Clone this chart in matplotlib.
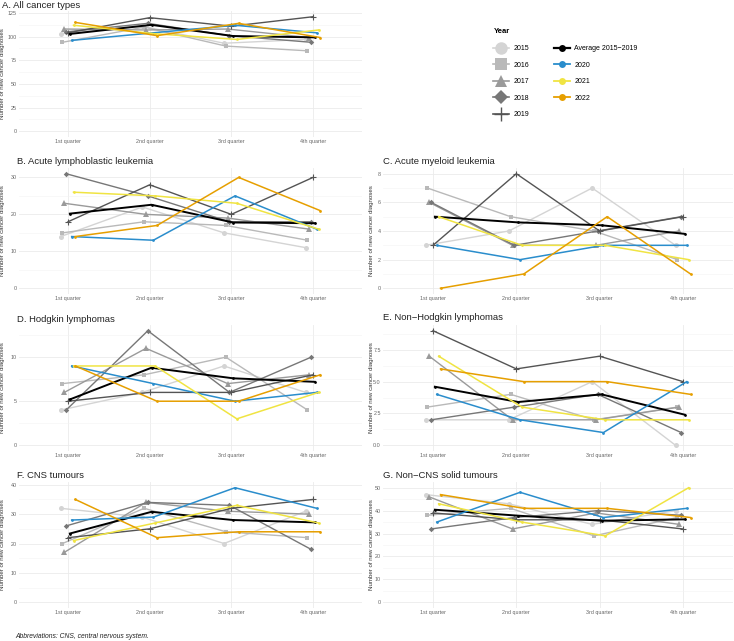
import matplotlib
matplotlib.use("Agg")
import matplotlib.pyplot as plt
from matplotlib.lines import Line2D
from matplotlib.ticker import MultipleLocator
import numpy as np

plt.rcParams['font.family'] = ['Liberation Sans', 'DejaVu Sans']

quarters = ["1st quarter", "2nd quarter", "3rd quarter", "4th quarter"]
series_names = ["2015", "2016", "2017", "2018", "2019",
                "Average 2015\u22122019", "2020", "2021", "2022"]

# ---- data per panel (order follows series_names) ----
all_cancer = [
    [103, 111, 93, 97],
    [94, 110, 90, 85],
    [108, 107, 108, 99],
    [105, 114, 101, 94],
    [104, 120, 111, 121],
    [102.8, 112.4, 100.6, 99.2],
    [96, 104, 112, 104],
    [112, 103, 97, 107],
    [115, 101, 114, 99],
]
all_leuk = [
    [14, 22, 15, 11],
    [15, 18, 17, 13],
    [23, 20, 19, 16],
    [31, 25, 18, 18],
    [18, 28, 20, 30],
    [20.2, 22.6, 17.8, 17.6],
    [14, 13, 25, 16],
    [26, 25, 23, 16],
    [14, 17, 30, 21],
]
aml = [
    [3, 4, 7, 3],
    [7, 5, 4, 2],
    [6, 3, 3, 4],
    [6, 3, 4, 5],
    [3, 8, 4, 5],
    [5.0, 4.6, 4.4, 3.8],
    [3, 2, 3, 3],
    [5, 3, 3, 2],
    [0, 1, 5, 1],
]
hodgkin = [
    [4, 6, 9, 6],
    [7, 8, 10, 4],
    [6, 11, 7, 8],
    [4, 13, 6, 10],
    [5, 6, 6, 8],
    [5.2, 8.8, 7.6, 7.2],
    [9, 7, 5, 6],
    [9, 9, 3, 6],
    [9, 5, 5, 8],
]
nhl = [
    [2, 2, 5, 0],
    [3, 4, 2, 3],
    [7, 2, 2, 3],
    [2, 3, 4, 1],
    [9, 6, 7, 5],
    [4.6, 3.4, 4.0, 2.4],
    [4, 2, 1, 5],
    [7, 3, 2, 2],
    [6, 5, 5, 4],
]
cns = [
    [32, 29, 20, 31],
    [20, 32, 24, 22],
    [17, 34, 31, 30],
    [26, 34, 33, 18],
    [22, 25, 32, 35],
    [23.4, 30.8, 28.0, 27.2],
    [28, 29, 39, 32],
    [21, 27, 33, 27],
    [35, 22, 24, 24],
]
non_cns = [
    [47, 43, 34, 40],
    [38, 41, 29, 37],
    [46, 32, 39, 34],
    [32, 37, 40, 38],
    [39, 36, 36, 32],
    [40.4, 37.8, 35.6, 36.2],
    [35, 48, 37, 41],
    [43, 35, 29, 50],
    [47, 41, 41, 37],
]

panel_titles = ["A. All cancer types", "B. Acute lymphoblastic leukemia",
                "C. Acute myeloid leukemia", "D. Hodgkin lymphomas",
                "E. Non\u2212Hodgkin lymphomas", "F. CNS tumours",
                "G. Non\u2212CNS solid tumours"]
panel_data = [all_cancer, all_leuk, aml, hodgkin, nhl, cns, non_cns]
tick_steps = [25, 10, 2, 5, 2.5, 10, 10]

# ---- styles ----
colors = ["#d4d4d4", "#b9b9b9", "#9a9a9a", "#777777", "#545454",
          "#000000", "#2a8dcc", "#f0e442", "#e69f00"]
markers = ["o", "s", "^", "D", "+", "o", "o", "o", "o"]
msizes = [3.6, 3.4, 3.8, 2.8, 5.0, 2.0, 2.0, 2.0, 2.0]
lwidths = [1.0, 1.0, 1.0, 1.0, 1.0, 1.4, 1.1, 1.1, 1.1]
mews = [0, 0, 0, 0, 0.8, 0, 0, 0, 0]
dodge = 0.0225

W, H = 734, 641
fig = plt.figure(figsize=(W / 100, H / 100), dpi=100)

# panel boxes in pixels: left, right, top, bottom
boxes = [(19, 362, 11, 137), (19, 362, 168, 294), (383, 733, 168, 294),
         (19, 362, 325, 451), (383, 733, 325, 451),
         (19, 362, 482, 608), (383, 733, 482, 608)]
title_pos = [(2, 5), (17, 161), (383, 161), (17, 319), (383, 318),
             (17, 475), (383, 475)]

x = np.arange(len(quarters))
for k, (data, box) in enumerate(zip(panel_data, boxes)):
    l, r, t, b = box
    ax = fig.add_axes([l / W, 1 - b / H, (r - l) / W, (b - t) / H])
    for i, vals in enumerate(data):
        off = (i - 4) * dodge
        ax.plot(x + off, vals, color=colors[i], lw=lwidths[i],
                marker=markers[i], ms=msizes[i], mew=mews[i],
                mec=colors[i], zorder=3 + (i >= 5))
    ymax = max(max(v) for v in data)
    ax.set_ylim(-0.05 * ymax, 1.05 * ymax)
    ax.set_xlim(-0.6, 3.6)
    ax.set_xticks(x)
    ax.set_xticklabels(quarters)
    ax.yaxis.set_major_locator(MultipleLocator(tick_steps[k]))
    ax.yaxis.set_minor_locator(MultipleLocator(tick_steps[k] / 2))
    if k == 4:
        ax.yaxis.set_major_formatter(matplotlib.ticker.FormatStrFormatter('%.1f'))
    ax.grid(True, which='major', color='#ebebeb', lw=0.6)
    ax.grid(True, which='minor', axis='y', color='#f3f3f3', lw=0.4)
    ax.set_axisbelow(True)
    for s in ax.spines.values():
        s.set_visible(False)
    ax.tick_params(which='both', length=0, labelsize=3.9, colors='#666666', pad=1.5)
    ax.set_ylabel("Number of new cancer diagnoses", fontsize=4.4, color='#333333')
    if l < 100:
        ax.yaxis.set_label_coords(-0.041, 0.5)
    else:
        ax.yaxis.set_label_coords(-0.026, 0.5)
    tx, ty = title_pos[k]
    fig.text(tx / W, 1 - ty / H, panel_titles[k], fontsize=6.8, color='#222222',
             ha='left', va='center')

# ---- legend ----
handles = []
leg_ms = [9, 8, 9, 7, 10, 5, 5, 5, 5]
for i, name in enumerate(series_names):
    handles.append(Line2D([0], [0], color=colors[i], lw=lwidths[i] + 0.2,
                          marker=markers[i], ms=leg_ms[i], mew=1.0 if markers[i] == '+' else 0,
                          mec=colors[i], label=name))
leg = fig.legend(handles=handles, ncol=2, loc='upper left',
                 bbox_to_anchor=(490 / W, 1 - 25 / H), frameon=False,
                 fontsize=5, title="Year", title_fontproperties={'weight': 'bold', 'size': 5.5},
                 alignment='left', handlelength=2.3, handletextpad=0.6,
                 columnspacing=3.6, labelspacing=1.38, borderpad=0)

fig.text(15 / W, 1 - 636 / H, "Abbreviations: CNS, central nervous system.",
         fontsize=4.9, style='italic', color='#222222', ha='left', va='center')

fig.savefig("out.png", dpi=100)
